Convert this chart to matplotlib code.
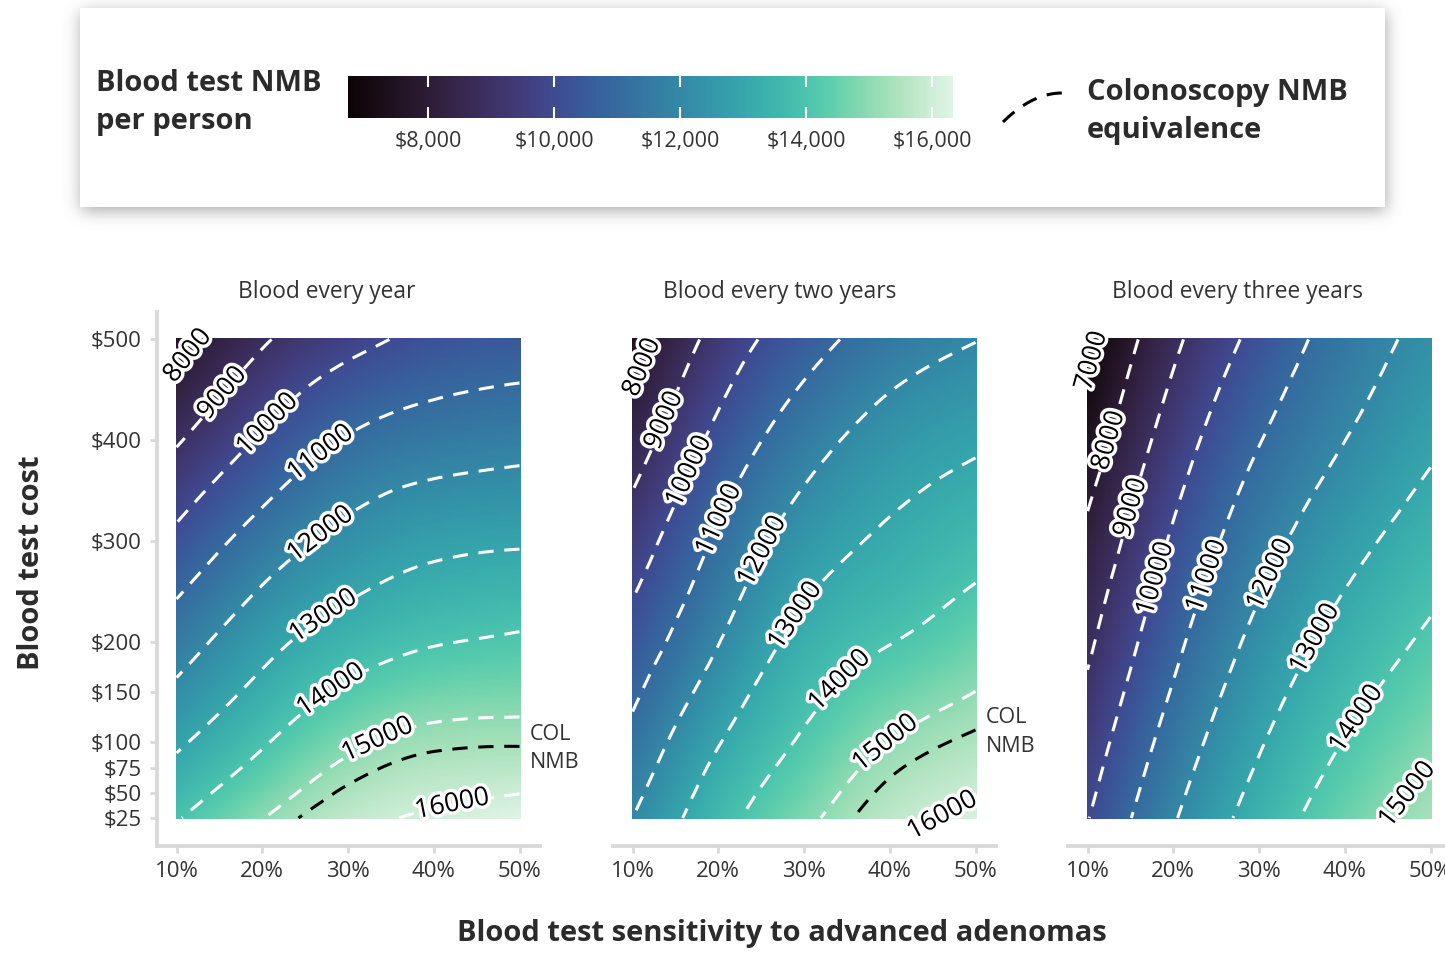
import numpy as np
import matplotlib
matplotlib.use("Agg")
import matplotlib.pyplot as plt
import matplotlib.tri as mtri
import matplotlib.patheffects as pe
from matplotlib.colors import Normalize
from matplotlib.cm import ScalarMappable
from matplotlib.patches import Rectangle
from matplotlib.ticker import FuncFormatter
import seaborn as sns

plt.rcParams["font.family"] = ["Open Sans", "DejaVu Sans"]

W, H = 1445, 969

# grid the model was run on
sensitivity = [10, 20, 30, 40, 50]          # % sensitivity to advanced adenomas
test_cost = [25, 100, 200, 300, 400, 500]   # $ per blood test

# blood test NMB per person ($); rows follow sensitivity, columns follow test_cost
nmb_every_year = [
    [13930, 12855, 11545, 10238, 8907, 7590],
    [14975, 13910, 12680, 11440, 10125, 8890],
    [15760, 14825, 13500, 12300, 11075, 9690],
    [16100, 15250, 13940, 12760, 11510, 10260],
    [16330, 15310, 14120, 12900, 11695, 10475],
]
nmb_every_two_years = [
    [12000, 11280, 10372, 9470, 8485, 7490],
    [13641, 12952, 11967, 11148, 10267, 9360],
    [14804, 14128, 13300, 12476, 11580, 10590],
    [15694, 15021, 13968, 13162, 12426, 11480],
    [16180, 15476, 14533, 13651, 12858, 11973],
]
nmb_every_three_years = [
    [9960, 9475, 8826, 8205, 7451, 6730],
    [11913, 11409, 10754, 10126, 9472, 8791],
    [13409, 12915, 12266, 11616, 10959, 10290],
    [14544, 14034, 13347, 12667, 11993, 11450],
    [15354, 14844, 14161, 13493, 12831, 12293],
]
colonoscopy_nmb = 15360

panel_titles = ["Blood every year", "Blood every two years", "Blood every three years"]
contour_levels = list(range(7000, 17000, 1000))
cost_ticks = [25, 50, 75, 100, 150, 200, 300, 400, 500]
sens_ticks = [10, 20, 30, 40, 50]
cbar_ticks = [8000, 10000, 12000, 14000, 16000]

# where the contour labels sit (sensitivity, cost)
label_spots = [
    [(11.6, 482), (15.3, 447), (20.6, 416), (27.1, 384), (27.3, 301),
     (27.3, 223), (28.0, 152), (33.7, 98), (42.1, 41)],
    [(11.2, 472), (13.6, 420), (16.4, 370), (20.1, 321), (25.6, 288),
     (29.3, 224), (34.1, 162), (39.8, 96), (46.1, 28)],
    [(10.8, 478), (12.4, 400), (14.7, 334), (17.4, 264), (23.6, 266),
     (31.0, 268), (36.1, 205), (41.1, 125), (47.8, 45)],
]

panels = [nmb_every_year, nmb_every_two_years, nmb_every_three_years]
all_vals = np.array(panels, dtype=float)
norm = Normalize(vmin=all_vals.min(), vmax=all_vals.max())
cmap = sns.color_palette("mako", as_cmap=True)

GRID = "#d9d9d9"
TXT = "#333333"
DASH = (0, (5, 3.5))

fig = plt.figure(figsize=(W / 100, H / 100), dpi=100)
fig.patch.set_facecolor("white")

# background layer in pixel coordinates for the key box and shared labels
bg = fig.add_axes([0, 0, 1, 1], zorder=0)
bg.set_xlim(0, W)
bg.set_ylim(H, 0)
bg.axis("off")

# soft drop shadow under the key box
box = (80, 8, 1385, 207)
mask = np.zeros((260, W))
mask[box[1] + 4:box[3] + 4, box[0] + 1:box[2] + 1] = 1.0
k = np.exp(-0.5 * (np.arange(-30, 31) / 8.0) ** 2)
k /= k.sum()
blur = np.apply_along_axis(lambda r: np.convolve(r, k, mode="same"), 1, mask)
blur = np.apply_along_axis(lambda r: np.convolve(r, k, mode="same"), 0, blur)
shadow = np.zeros((260, W, 4))
shadow[..., :3] = 0.45
shadow[..., 3] = blur * 0.6
bg.imshow(shadow, extent=(0, W, 260, 0), aspect="auto", interpolation="bilinear", zorder=1)
bg.add_patch(Rectangle((box[0], box[1]), box[2] - box[0], box[3] - box[1],
                       facecolor="white", edgecolor="none", zorder=2))

bold = dict(fontsize=21, fontweight="bold", color="#2b2b2b", zorder=3)
bg.text(96, 91, "Blood test NMB", **bold)
bg.text(96, 129, "per person", **bold)
bg.text(1087, 100, "Colonoscopy NMB", **bold)
bg.text(1087, 138, "equivalence", **bold)
key_t = np.linspace(0, 1, 20)
key_x = 1003 + 59 * key_t
key_y = 122 - 29 * (1 - (1 - key_t) ** 2)
bg.plot(key_x, key_y, color="black", lw=2.2, linestyle=DASH, zorder=3)

bg.text(782, 934, "Blood test sensitivity to advanced adenomas", ha="center", va="center",
        fontsize=21, fontweight="bold", color="#2b2b2b")
bg.text(32, 563, "Blood test cost", ha="center", va="center", rotation=90,
        fontsize=21, fontweight="bold", color="#2b2b2b")

# colour key
cax = fig.add_axes([348 / W, 1 - 118 / H, 605 / W, 42 / H], zorder=2)
cb = fig.colorbar(ScalarMappable(norm=norm, cmap=cmap), cax=cax, orientation="horizontal")
cb.outline.set_visible(False)
cb.set_ticks(cbar_ticks)
cb.minorticks_off()
cax.xaxis.set_major_formatter(FuncFormatter(lambda v, p: f"${v:,.0f}"))
cax.tick_params(axis="x", direction="in", length=8, width=1.5, color="white",
                top=True, bottom=True, labelsize=15.5, labelcolor=TXT, pad=9)

S, C = np.meshgrid(sensitivity, test_cost, indexing="ij")
tri = mtri.Triangulation(S.ravel(), C.ravel())
fine_s = np.linspace(sensitivity[0], sensitivity[-1], 201)
fine_c = np.linspace(test_cost[0], test_cost[-1], 241)
FS, FC = np.meshgrid(fine_s, fine_c)

panel_left = [157, 613, 1068]
title_x = [327, 780, 1237]
ds = (fine_s[1] - fine_s[0]) / 2
dc = (fine_c[1] - fine_c[0]) / 2

for i, vals in enumerate(panels):
    ax = fig.add_axes([panel_left[i] / W, 1 - 846 / H, 383 / W, 534 / H], zorder=1)
    z = np.array(vals, dtype=float).ravel()
    interp = mtri.CubicTriInterpolator(tri, z, kind="min_E")
    Z = interp(FS, FC)

    ax.imshow(Z, origin="lower", cmap=cmap, norm=norm, aspect="auto",
              extent=(fine_s[0] - ds, fine_s[-1] + ds, fine_c[0] - dc, fine_c[-1] + dc),
              interpolation="bilinear", zorder=1)
    cs = ax.contour(FS, FC, Z, levels=contour_levels, colors="white",
                    linewidths=2.2, linestyles=[DASH], zorder=2)
    labels = ax.clabel(cs, inline=True, inline_spacing=6, fmt="%d", fontsize=19,
                       colors="black", manual=label_spots[i])
    for t in labels:
        t.set_path_effects([pe.withStroke(linewidth=5, foreground="white")])
        t.set_zorder(4)
    ax.contour(FS, FC, Z, levels=[colonoscopy_nmb], colors="black",
               linewidths=2.2, linestyles=[DASH], zorder=3)

    # tag the colonoscopy line where it meets the right edge
    right_col = np.array(vals[-1], dtype=float)
    if right_col.min() <= colonoscopy_nmb <= right_col.max():
        c_at = np.interp(colonoscopy_nmb, right_col[::-1], np.array(test_cost[::-1], float))
        ax.text(sensitivity[-1] + 1.2, c_at - 2, "COL\nNMB", ha="left", va="center",
                fontsize=15.5, color=TXT, linespacing=1.45, clip_on=False)

    ax.set_xlim(sensitivity[0] - 2.28, sensitivity[-1] + 2.39)
    ax.set_ylim(test_cost[0] - 27.8, test_cost[-1] + 27.2)
    ax.set_facecolor("white")
    for side in ["top", "right"]:
        ax.spines[side].set_visible(False)
    ax.spines["bottom"].set_color(GRID)
    ax.spines["bottom"].set_linewidth(2.8)
    ax.spines["left"].set_color(GRID)
    ax.spines["left"].set_linewidth(2.8)
    ax.set_xticks(sens_ticks)
    ax.set_xticklabels([f"{v}%" for v in sens_ticks])
    ax.tick_params(axis="both", color=GRID, length=5, width=2, labelsize=16,
                   labelcolor=TXT, pad=6)
    if i == 0:
        ax.set_yticks(cost_ticks)
        ax.set_yticklabels([f"${v}" for v in cost_ticks])
    else:
        ax.spines["left"].set_visible(False)
        ax.set_yticks([])

    bg.text(title_x[i], 292, panel_titles[i], ha="center", va="center",
            fontsize=16.4, color=TXT)

fig.savefig("out.png", dpi=100, facecolor="white")
